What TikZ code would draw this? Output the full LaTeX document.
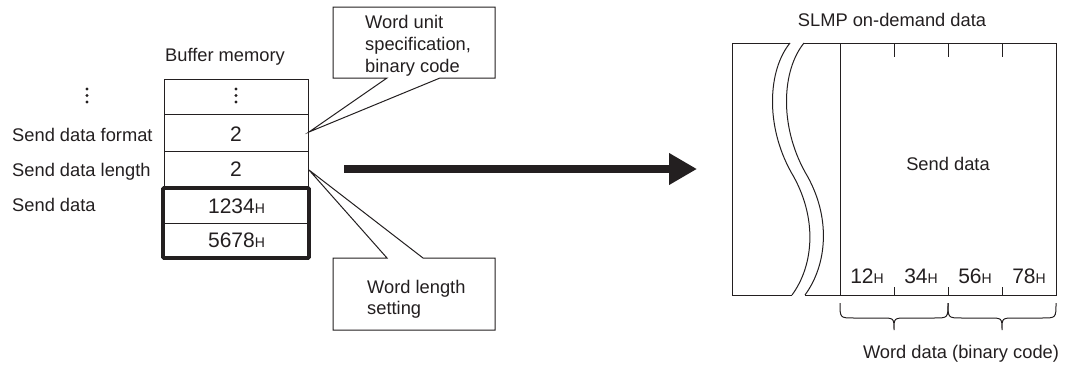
\documentclass[tikz,border=0pt]{standalone}
\usepackage{fontspec}
\setmainfont{Liberation Sans}
\usetikzlibrary{arrows.meta}
\definecolor{ink}{HTML}{231F20}
\newcommand{\hsub}{{\fontsize{14}{14}\selectfont H}}
\begin{document}
\begin{tikzpicture}[x=1pt,y=-1pt,
  txt/.style={font=\fontsize{18.3}{22}\selectfont, inner sep=0pt, text=ink},
  num/.style={font=\fontsize{21}{24}\selectfont, inner sep=0pt, text=ink},
  thinln/.style={draw=ink, line width=1pt},
  thickbox/.style={draw=ink, line width=3.6pt, rounded corners=1pt},
  callout/.style={draw=ink, line width=1pt, fill=white, line join=miter},
  dotf/.style={fill=ink},
  bigarrow/.style={draw=ink, line width=8pt, -{Triangle[length=28pt,width=30pt]}},
]
\useasboundingbox (0,0) rectangle (1066,372);

% ---------- Buffer memory table ----------
\node[txt, anchor=base] (bm) at (225,61.5) {Buffer memory};
\draw[thinln] (164,79) rectangle (308,189);
\draw[thinln] (164,114) -- (308,114);
\draw[thinln] (164,151) -- (308,151);
\draw[thinln] (164,223) -- (308,223);
\draw[thickbox] (163,188) rectangle (309,258);

% vertical dots
\foreach \yy in {89,95.5,102} {
  \fill[dotf] (236,\yy) circle (1.7);
  \fill[dotf] (87,\yy) circle (1.7);
}

\node[num, anchor=base] (v1) at (236,141.5) {2};
\node[num, anchor=base] (v2) at (236,176.5) {2};
\node[num, anchor=base] (v3) at (236.5,213) {1234\hsub};
\node[num, anchor=base] (v4) at (236.5,247) {5678\hsub};

\node[txt, anchor=base west] (l1) at (12,141.5) {Send data format};
\node[txt, anchor=base west] (l2) at (12,176.5) {Send data length};
\node[txt, anchor=base west] (l3) at (12,211) {Send data};

% ---------- callouts ----------
\coordinate (p1) at (309,132);
\coordinate (p2) at (309,170);
\draw[callout] (333,7) -- (495,7) -- (495,78) -- (440,78) -- (p1) -- (387,78) -- (333,78) -- cycle;
\node[txt, anchor=base west] (c1a) at (365,28) {Word unit};
\node[txt, anchor=base west] (c1b) at (365,50) {specification,};
\node[txt, anchor=base west] (c1c) at (365,72.5) {binary code};

\draw[callout] (333,258) -- (387,258) -- (p2) -- (423,258) -- (495,258) -- (495,330) -- (333,330) -- cycle;
\node[txt, anchor=base west] (c2a) at (367,293) {Word length};
\node[txt, anchor=base west] (c2b) at (367,314.5) {setting};

% ---------- big arrow ----------
\coordinate (aS) at (344,169);
\coordinate (aE) at (697,169);
\draw[bigarrow] (aS) -- (aE);

% ---------- SLMP frame ----------
\node[txt, anchor=base] (slmp) at (892,27) {SLMP on-demand data};
\draw[thinln] (790,43) -- (732,43) -- (732,295) -- (792,295);
\draw[thinln] (790,43) .. controls (768,70) and (765,125) .. (791,172)
                      .. controls (818,217) and (814,265) .. (792,295);
\draw[thinln] (804,43) .. controls (782,70) and (779,125) .. (805,172)
                      .. controls (832,217) and (827,265) .. (805,295);
\draw[thinln] (804,43) -- (1056,43) -- (1056,295) -- (805,295);
\draw[thinln] (840,43) -- (840,295);
\foreach \xx in {894,948,1002} {
  \draw[thinln] (\xx,43) -- (\xx,57);
  \draw[thinln] (\xx,287) -- (\xx,295);
}
\node[txt, anchor=base] (sd) at (948,170) {Send data};
\node[num, anchor=base] (b1) at (867,283) {12\hsub};
\node[num, anchor=base] (b2) at (921,283) {34\hsub};
\node[num, anchor=base] (b3) at (975,283) {56\hsub};
\node[num, anchor=base] (b4) at (1029,283) {78\hsub};

% braces
\foreach \xa/\xm/\xb in {840/894/948, 948/1002/1056} {
  \draw[thinln] (\xa,303) .. controls (\xa,318) .. (\xa+14,318) -- (\xm-13,318)
     .. controls (\xm,318) .. (\xm,330)
     .. controls (\xm,318) .. (\xm+13,318) -- (\xb-14,318)
     .. controls (\xb,318) .. (\xb,303);
}
\node[txt, anchor=base] (wd) at (961,358) {Word data (binary code)};
\end{tikzpicture}
\end{document}
